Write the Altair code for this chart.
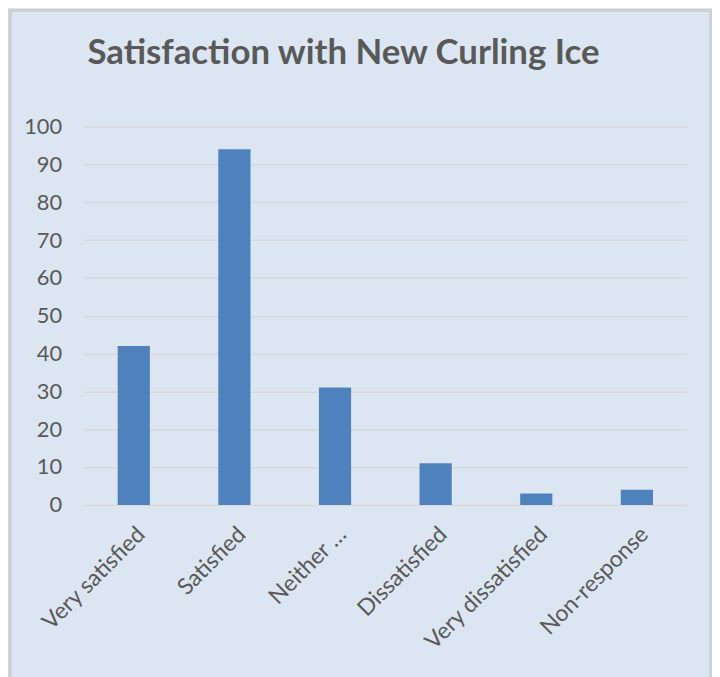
import altair as alt
import pandas as pd

title_text = "Satisfaction with New Curling Ice"
categories = ["Very satisfied", "Satisfied", "Neither …", "Dissatisfied", "Very dissatisfied", "Non-response"]
values = [42, 94, 31, 11, 3, 4]
y_ticks = [0, 10, 20, 30, 40, 50, 60, 70, 80, 90, 100]

df = pd.DataFrame({"category": categories, "value": values})

FONT = "Lato"
TXT = "#595959"

bars = alt.Chart(df).mark_bar(color="#4f81bd").encode(
    x=alt.X("category:N", sort=categories, title=None,
            scale=alt.Scale(paddingInner=0.68, paddingOuter=0.34),
            axis=alt.Axis(labelAngle=-45, labelFontSize=23, labelColor=TXT, labelFont=FONT,
                          ticks=False, domain=False, labelPadding=18, labelLimit=300)),
    y=alt.Y("value:Q", title=None,
            scale=alt.Scale(domain=[0, 100], nice=False),
            axis=alt.Axis(values=y_ticks, labelFontSize=22, labelColor=TXT, labelFont=FONT,
                          ticks=False, domain=False, labelPadding=22,
                          grid=True, gridColor="#d9d9d9", gridWidth=1.5)),
)

title = alt.Chart(pd.DataFrame({"t": [title_text]})).mark_text(
    font=FONT, fontSize=35, fontWeight="bold", color=TXT, align="left", baseline="alphabetic"
).encode(text="t:N", x=alt.value(4), y=alt.value(-63))

border = alt.Chart(df).mark_rect(fill=None, stroke="#d0d0d0", strokeWidth=2.5).encode(
    x=alt.value(-74), x2=alt.value(632), y=alt.value(-117), y2=alt.value(600)
)

chart = alt.layer(bars, title, border).properties(
    width=608,
    height=381,
    autosize=alt.AutoSizeParams(type="none"),
    padding={"left": 76, "top": 117, "right": 25, "bottom": 180},
    background="#dce6f2",
).configure_view(stroke=None)

chart.save("out.html", embed_options={"renderer": "svg", "actions": False})
